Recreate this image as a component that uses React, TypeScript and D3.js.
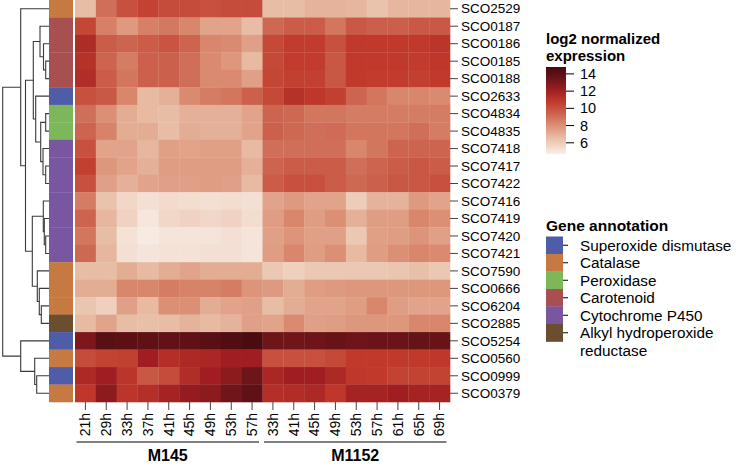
import React from "react";
import * as d3 from "d3";

// ---------- data ----------
const genes = [
  "SCO2529", "SCO0187", "SCO0186", "SCO0185", "SCO0188", "SCO2633", "SCO4834", "SCO4835",
  "SCO7418", "SCO7417", "SCO7422", "SCO7416", "SCO7419", "SCO7420", "SCO7421", "SCO7590",
  "SCO0666", "SCO6204", "SCO2885", "SCO5254", "SCO0560", "SCO0999", "SCO0379",
];

const annotationCategories = [
  "Superoxide dismutase", "Catalase", "Peroxidase", "Carotenoid", "Cytochrome P450",
  "Alkyl hydroperoxide\nreductase",
];
const annotationColors = ["#4f5da8", "#c67a42", "#7cb75a", "#a84f52", "#7856a0", "#6b4d30"];

const geneAnnotation = [
  1, 3, 3, 3, 3, 0, 2, 2,
  4, 4, 4, 4, 4, 4, 4, 1,
  1, 1, 5, 0, 1, 0, 1,
];

const groupNames = ["M145", "M1152"];
const timesM145 = ["21h", "29h", "33h", "37h", "41h", "45h", "49h", "53h", "57h"];
const timesM1152 = ["33h", "41h", "45h", "49h", "53h", "57h", "61h", "65h", "69h"];

const valuesM145 = [
  [6.6, 9.0, 10.0, 10.5, 10.2, 10.2, 10.0, 10.2, 10.2],
  [10.4, 8.5, 7.7, 8.5, 8.7, 8.3, 7.4, 7.4, 6.6],
  [11.5, 9.6, 9.3, 9.6, 9.9, 9.3, 8.3, 8.2, 7.5],
  [11.2, 9.3, 8.6, 9.4, 9.4, 9.0, 8.2, 7.8, 6.7],
  [11.4, 9.6, 8.8, 9.4, 9.4, 9.0, 8.2, 8.2, 7.5],
  [10.0, 9.7, 8.3, 6.7, 7.0, 8.2, 8.6, 8.8, 9.4],
  [9.0, 8.0, 7.1, 6.7, 6.6, 7.0, 7.0, 7.0, 7.4],
  [9.3, 8.4, 7.1, 7.1, 6.6, 7.1, 7.0, 7.0, 7.4],
  [10.0, 7.4, 7.4, 6.8, 7.5, 7.4, 7.5, 7.5, 6.7],
  [10.6, 7.8, 7.4, 7.0, 7.6, 7.6, 7.6, 7.6, 7.0],
  [10.0, 7.5, 7.0, 7.4, 7.5, 7.5, 7.6, 7.5, 6.7],
  [8.6, 6.4, 5.6, 5.3, 5.5, 5.4, 5.3, 5.4, 5.3],
  [9.3, 6.8, 5.8, 5.0, 5.6, 5.8, 5.6, 5.8, 5.4],
  [8.8, 6.6, 5.2, 4.9, 5.1, 5.1, 5.1, 5.3, 5.1],
  [9.2, 6.8, 5.3, 5.1, 5.2, 5.2, 5.3, 5.3, 5.1],
  [6.6, 6.6, 7.1, 6.7, 7.1, 7.4, 7.1, 7.1, 7.1],
  [7.1, 7.1, 8.3, 8.3, 8.6, 8.4, 8.4, 8.6, 7.9],
  [6.3, 5.9, 7.5, 6.7, 8.0, 8.0, 7.1, 7.4, 7.5],
  [6.7, 7.4, 6.6, 6.5, 6.6, 6.9, 6.7, 6.9, 7.5],
  [13.0, 14.1, 14.0, 13.9, 13.8, 13.9, 14.1, 14.4, 14.6],
  [10.2, 10.5, 10.6, 12.1, 11.3, 11.6, 11.7, 12.1, 12.1],
  [11.6, 12.1, 11.0, 9.8, 10.2, 11.4, 12.1, 12.6, 13.4],
  [10.9, 12.6, 11.0, 11.3, 11.9, 12.4, 12.6, 13.3, 13.9],
];

const valuesM1152 = [
  [6.6, 6.6, 6.9, 6.9, 6.8, 6.4, 6.8, 6.8, 6.8],
  [9.2, 9.6, 9.6, 8.8, 9.7, 9.5, 9.5, 9.7, 9.7],
  [10.3, 10.7, 10.7, 10.0, 10.8, 10.8, 10.8, 10.8, 11.0],
  [10.3, 10.7, 10.7, 9.8, 10.8, 10.8, 10.8, 10.7, 10.9],
  [10.4, 10.6, 10.6, 9.8, 10.8, 10.7, 10.7, 10.6, 10.8],
  [10.3, 11.2, 10.9, 10.6, 9.3, 8.8, 8.3, 8.3, 8.2],
  [9.3, 9.2, 8.8, 8.8, 8.6, 8.6, 8.6, 8.6, 8.6],
  [9.4, 9.2, 9.0, 9.1, 8.8, 8.8, 8.8, 9.0, 8.6],
  [9.0, 9.0, 9.0, 9.0, 8.3, 8.8, 9.3, 9.3, 9.3],
  [9.3, 9.6, 9.6, 9.6, 9.0, 9.3, 9.6, 9.8, 9.6],
  [9.6, 10.0, 10.0, 9.6, 9.2, 9.4, 9.8, 9.8, 10.0],
  [7.4, 7.7, 7.4, 7.4, 6.0, 6.9, 6.9, 7.7, 7.4],
  [7.6, 8.3, 7.6, 8.0, 7.0, 7.6, 7.6, 8.3, 8.0],
  [7.5, 7.9, 7.5, 7.5, 6.2, 7.5, 7.6, 7.9, 7.5],
  [7.6, 8.3, 7.6, 8.0, 6.7, 7.6, 8.0, 8.3, 8.2],
  [6.2, 5.9, 6.2, 6.2, 6.2, 6.2, 6.3, 6.5, 6.2],
  [7.7, 7.1, 7.6, 7.7, 7.8, 7.8, 7.8, 7.8, 7.8],
  [6.6, 7.1, 7.4, 7.4, 7.6, 8.3, 7.6, 7.4, 7.4],
  [7.4, 8.2, 7.5, 7.6, 7.8, 7.8, 7.8, 8.3, 8.3],
  [13.4, 13.3, 13.4, 13.6, 13.4, 13.5, 13.5, 13.7, 13.6],
  [10.0, 10.0, 10.0, 10.3, 10.8, 10.8, 10.8, 10.8, 10.9],
  [11.7, 12.1, 12.1, 11.6, 10.9, 10.8, 10.5, 10.5, 10.5],
  [11.3, 11.4, 11.6, 10.9, 11.9, 11.9, 12.1, 11.9, 11.9],
];

// dendrogram: [mergeHeight, left, right]; leaves are row indices
const dendrogram: any = [46.3,
  [28.3, 0, [23.5,
    [15.7,
      [9, 1, [5.5, 2, [3.3, 3, 4]]],
      [13.3, 5, [8.3, [3.3, 6, 7], [6, 8, [3.3, 9, 10]]]]],
    [16.7,
      [5.7, 11, [4.7, 12, [3.3, 13, 14]]],
      [11.7, 15, [9.7, 16, [7.7, 17, 18]]]]]],
  [28.3, 19, [14.3, 20, [12.3, 21, 22]]],
];

const legendTicks = [6, 8, 10, 12, 14];
const colorStops = [4.7, 6.5, 8.2, 9.3, 10.8, 12.1, 13.3, 14.8];
const colorRange = ["#f8efe9", "#e8c0a8", "#d98a70", "#cc6450", "#c0392b", "#a01e22", "#701619", "#460a0e"];

// ---------- layout ----------
const W = 736, H = 468;
const FONT = "'Liberation Sans', Arial, Helvetica, sans-serif";
const hmLeft = 75, hmRight = 450, hmTop = 0, hmBottom = 402;
const annLeft = 49, annRight = 73;
const dendLeft = 2.7, dendRight = 49;

export default function App() {
  const columns = [
    ...timesM145.map((t, i) => ({ group: 0, label: t, i })),
    ...timesM1152.map((t, i) => ({ group: 1, label: t, i })),
  ];
  const matrix = genes.map((_, r) => [...valuesM145[r], ...valuesM1152[r]]);

  const x = d3.scaleBand<number>().domain(d3.range(columns.length)).range([hmLeft, hmRight]);
  const y = d3.scaleBand<number>().domain(d3.range(genes.length)).range([hmTop, hmBottom]);
  const color = d3.scaleLinear<string>().domain(colorStops).range(colorRange)
    .interpolate(d3.interpolateLab).clamp(true);

  // dendrogram
  const root = d3.hierarchy<any>(dendrogram, (d) => (Array.isArray(d) ? [d[1], d[2]] : null));
  const hMax = dendrogram[0];
  const hx = d3.scaleLinear().domain([0, hMax]).range([dendRight, dendLeft]);
  const pos = new Map<any, { x: number; y: number }>();
  root.eachAfter((n: any) => {
    if (!n.children) {
      pos.set(n, { x: hx(0), y: (y(n.data) as number) + y.bandwidth() / 2 });
    } else {
      const ys = n.children.map((c: any) => pos.get(c)!.y);
      pos.set(n, { x: hx(n.data[0]), y: d3.mean(ys)! });
    }
  });
  const dendPaths: string[] = [];
  root.each((n: any) => {
    if (!n.children) return;
    const p = pos.get(n)!;
    const [a, b] = n.children.map((c: any) => pos.get(c)!);
    dendPaths.push(`M${a.x},${a.y}H${p.x}V${b.y}H${b.x}`);
  });

  // groups
  const groups = groupNames.map((g, gi) => {
    const idx = columns.map((c, i) => (c.group === gi ? i : -1)).filter((i) => i >= 0);
    const start = x(idx[0]) as number;
    const end = (x(idx[idx.length - 1]) as number) + x.bandwidth();
    return { name: g, start, end };
  });

  // legend color bar
  const barTop = 67, barBottom = 154, barX = 546, barW = 20;
  const ly = d3.scaleLinear().domain([colorStops[0], colorStops[colorStops.length - 1]]).range([barBottom, barTop]);
  const gradStops = d3.range(0, 1.0001, 0.05).map((t) => {
    const v = ly.invert(barBottom - t * (barBottom - barTop));
    return { offset: t, color: color(v) };
  });

  const annLegendTop = 236.5, swatchH = 17.5;

  return (
    <svg width={W} height={H} style={{ position: "absolute", left: 0, top: 0, background: "#fff" }}
      fontFamily={FONT}>
      <defs>
        <linearGradient id="cbar" x1="0" y1="1" x2="0" y2="0">
          {gradStops.map((s, i) => (
            <stop key={i} offset={s.offset} stopColor={s.color} />
          ))}
        </linearGradient>
      </defs>

      {/* dendrogram */}
      <g fill="none" stroke="#3a3a3a" strokeWidth={1.1}>
        {dendPaths.map((d, i) => <path key={i} d={d} />)}
      </g>

      {/* annotation column */}
      <g>
        {genes.map((g, r) => (
          <rect key={g} x={annLeft} y={y(r)} width={annRight - annLeft} height={y.bandwidth() + 0.3}
            fill={annotationColors[geneAnnotation[r]]} />
        ))}
      </g>

      {/* heatmap */}
      <g>
        {matrix.map((row, r) =>
          row.map((v, c) => (
            <rect key={`${r}-${c}`} x={x(c)} y={y(r)} width={x.bandwidth() + 0.3} height={y.bandwidth() + 0.3}
              fill={color(v)} />
          ))
        )}
      </g>

      {/* row labels */}
      <g fontSize={13.5} fill="#000">
        {genes.map((g, r) => {
          const cy = (y(r) as number) + y.bandwidth() / 2;
          return (
            <g key={g}>
              <line x1={hmRight} x2={hmRight + 8} y1={cy} y2={cy} stroke="#444" strokeWidth={1} />
              <text x={hmRight + 11} y={cy} dy="0.35em">{g}</text>
            </g>
          );
        })}
      </g>

      {/* column labels */}
      <g fontSize={14} fill="#000">
        {columns.map((c, i) => {
          const cx = (x(i) as number) + x.bandwidth() / 2;
          return (
            <g key={i}>
              <line x1={cx} x2={cx} y1={hmBottom} y2={hmBottom + 8} stroke="#444" strokeWidth={1} />
              <text transform={`translate(${cx},${hmBottom + 11}) rotate(-90)`} textAnchor="end" dy="0.35em">
                {c.label}
              </text>
            </g>
          );
        })}
      </g>

      {/* group brackets */}
      <g>
        {groups.map((g) => (
          <g key={g.name}>
            <line x1={g.start + 1.5} x2={g.end - 3.5} y1={442} y2={442} stroke="#555" strokeWidth={1.5} />
            <text x={(g.start + g.end) / 2 - 1} y={461} textAnchor="middle" fontWeight="bold" fontSize={16}>
              {g.name}
            </text>
          </g>
        ))}
      </g>

      {/* color legend */}
      <g>
        <text x={barX} y={44} fontWeight="bold" fontSize={15}>log2 normalized</text>
        <text x={barX} y={61} fontWeight="bold" fontSize={15}>expression</text>
        <rect x={barX} y={barTop} width={barW} height={barBottom - barTop} fill="url(#cbar)" />
        {legendTicks.map((t) => (
          <g key={t}>
            <line x1={barX + barW} x2={barX + barW + 8} y1={ly(t)} y2={ly(t)} stroke="#000" strokeWidth={1} />
            <text x={barX + barW + 14} y={ly(t)} dy="0.35em" fontSize={14.5}>{t}</text>
          </g>
        ))}
      </g>

      {/* annotation legend */}
      <g>
        <text x={barX} y={231} fontWeight="bold" fontSize={15.5}>Gene annotation</text>
        {annotationCategories.map((c, i) => {
          const top = annLegendTop + i * swatchH;
          const lines = c.split("\n");
          return (
            <g key={c}>
              <rect x={barX} y={top} width={17} height={swatchH + 0.3} fill={annotationColors[i]} />
              <line x1={barX + 17} x2={barX + 22} y1={top + swatchH / 2} y2={top + swatchH / 2} stroke="#000" strokeWidth={1} />
              {lines.map((l, li) => (
                <text key={li} x={barX + 34} y={top + swatchH / 2 + li * swatchH} dy="0.35em" fontSize={15.3}>{l}</text>
              ))}
            </g>
          );
        })}
      </g>
    </svg>
  );
}
